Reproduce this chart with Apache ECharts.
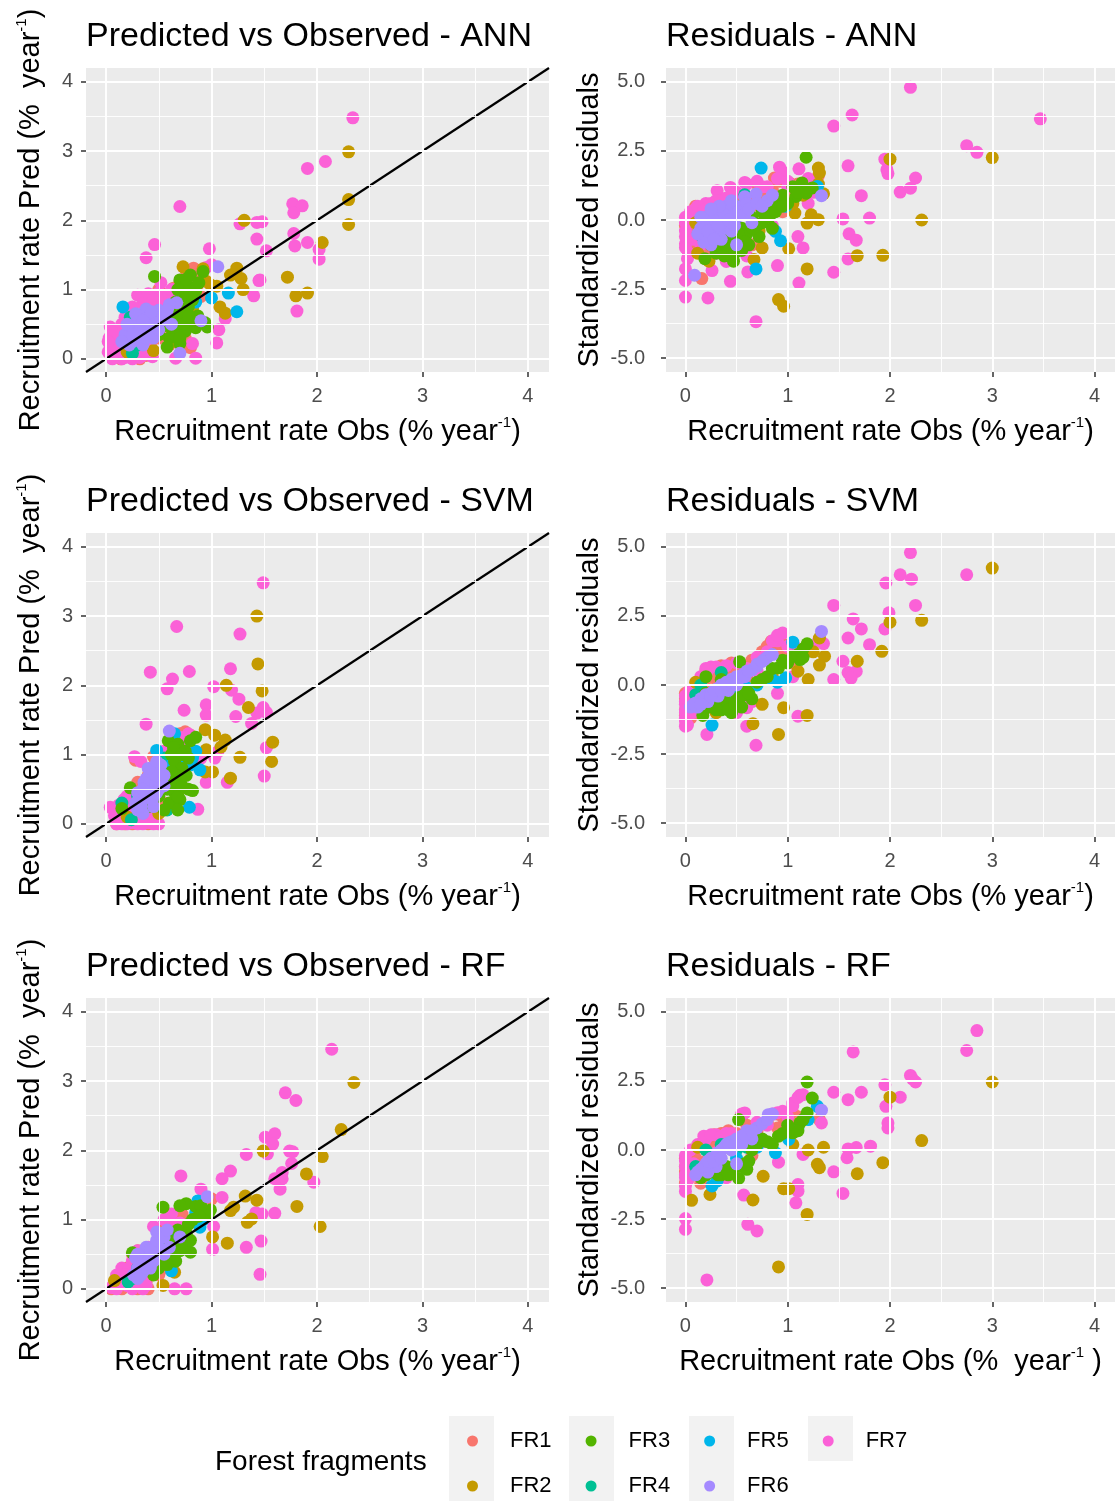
<!DOCTYPE html>
<html>
<head>
<meta charset="utf-8">
<script src="https://cdn.jsdelivr.net/npm/echarts@6/dist/echarts.min.js"></script>
<style>
html,body{margin:0;padding:0;background:#fff;}
#chart{width:1115px;height:1501px;}
</style>
</head>
<body>
<div id="chart"></div>
<script>
// ---- Tick breaks and axis ranges ----
const obsTicks = [0, 1, 2, 3, 4];
const obsMinor = [0.5, 1.5, 2.5, 3.5];
const predTicks = [0, 1, 2, 3, 4];
const predMinor = [0.5, 1.5, 2.5, 3.5];
const residTicks = [-5, -2.5, 0, 2.5, 5];
const residMinor = [-3.75, -1.25, 1.25, 3.75];
const obsRange = [-0.19, 4.2];
const predRange = [-0.19, 4.2];
const residRange = [-5.5, 5.5];
const identityLine = [[-0.19, -0.19], [4.2, 4.2]];
const zeroLine = [[-0.19, 0], [4.2, 0]];

const fragments = ['FR1', 'FR2', 'FR3', 'FR4', 'FR5', 'FR6', 'FR7'];

// ---- ANN: predicted vs observed [obs, pred] ----
const annPred_FR1 = [[0.05,0.02],[0.1,0.08],[0.14,0.0],[0.2,0.04],[0.26,0.1],[0.32,0.0],[0.38,0.05],[0.1,0.22],[0.18,0.15],[0.3,0.18],[0.42,0.2],[0.5,0.3],[0.28,0.4],[0.45,0.75],[0.52,0.85],[0.6,0.95],[0.64,1.02],[0.7,1.1],[0.76,1.28],[0.83,1.31],[0.88,1.22],[0.55,0.6],[0.8,0.16],[0.75,0.3],[0.6,0.2],[0.9,0.9],[0.35,0.88],[0.68,0.72],[0.08,0.12],[0.16,0.3],[0.22,0.25],[0.34,0.12],[0.4,0.35],[0.48,0.45],[0.58,0.7],[0.66,0.85],[0.72,0.95],[0.8,1.1],[0.86,1.0],[0.38,0.6],[0.25,0.65],[0.5,1.0],[0.15,0.45],[0.62,0.4]];
const annPred_FR2 = [[2.30,2.99],[2.30,2.30],[2.30,1.94],[2.05,1.68],[1.31,2.0],[1.72,1.18],[1.80,0.91],[1.91,0.95],[1.18,1.21],[1.24,1.31],[1.28,1.16],[1.30,1.0],[1.13,0.66],[1.08,0.75],[0.73,1.33],[0.99,1.07],[0.66,0.25],[0.45,0.12],[0.92,1.3],[0.95,1.12],[0.2,0.1],[0.82,0.72],[0.62,0.3],[1.05,1.05]];
const annPred_FR3 = [[0.46,1.19],[0.70,1.14],[0.80,1.21],[0.92,1.26],[0.96,0.46],[0.87,0.62],[0.94,0.52],[0.6,0.3],[0.62,0.45],[0.68,0.5],[0.75,0.4],[0.7,0.22],[0.58,0.17],[0.72,0.6],[0.78,1.05],[0.66,0.82],[0.85,0.98],[0.55,0.48],[0.5,0.35],[0.8,0.55],[0.75,0.9],[0.66,0.35],[0.88,1.1],[0.64,0.65],[0.78,0.75],[0.6,0.6],[0.7,0.7],[0.73,0.5],[0.78,0.62],[0.82,0.85],[0.85,0.45],[0.62,0.55],[0.7,0.3],[0.76,1.15],[0.68,1.0]];
const annPred_FR4 = [[0.23,0.6],[0.25,0.08],[0.45,0.67],[0.5,0.5],[0.35,0.3],[0.62,0.65],[0.3,0.2]];
const annPred_FR5 = [[0.16,0.75],[1.0,0.88],[1.16,0.95],[1.24,0.68],[0.85,0.82],[0.6,0.7],[0.42,0.55]];
const annPred_FR6 = [[1.06,1.33],[0.67,0.81],[0.7,0.08],[0.2,0.3],[0.25,0.45],[0.3,0.55],[0.35,0.65],[0.4,0.6],[0.45,0.5],[0.5,0.7],[0.3,0.35],[0.22,0.2],[0.35,0.2],[0.4,0.4],[0.55,0.62],[0.28,0.5],[0.18,0.35],[0.6,0.78],[0.45,0.3],[0.5,0.42],[0.25,0.25],[0.38,0.72],[0.9,0.55],[0.32,0.62],[0.42,0.48],[0.15,0.25],[0.2,0.5],[0.28,0.65],[0.33,0.45],[0.38,0.3],[0.48,0.6],[0.52,0.55],[0.58,0.7],[0.62,0.5],[0.25,0.35],[0.43,0.68],[0.35,0.55]];
const annPred_FR7 = [[2.34,3.48],[2.08,2.85],[1.91,2.75],[1.77,2.24],[1.86,2.21],[1.78,2.11],[1.78,1.81],[1.79,1.63],[1.91,1.68],[2.02,1.58],[2.02,1.44],[1.81,0.69],[0.70,2.20],[0.46,1.65],[0.38,1.46],[0.98,1.59],[1.27,1.95],[1.43,1.97],[1.48,1.98],[1.43,1.73],[1.52,1.56],[1.45,1.13],[1.40,0.91],[1.13,0.58],[1.07,0.42],[1.05,0.23],[0.85,0.01],[0.66,0.01],[0.44,0.03],[0.82,0.22],[0.04,0.46],[0.05,0.2],[0.02,0.1],[0.1,0.32],[0.15,0.0],[0.25,0.0],[0.3,0.92],[0.4,0.94],[0.52,1.1],[0.5,0.95],[0.35,0.8],[0.2,0.55],[0.12,0.42],[0.6,0.92],[1.46,1.14],[0.1,0.15],[0.32,0.02],[0.06,0.0],[1.0,1.36],[0.95,1.32],[0.18,0.6],[0.03,0.3],[0.07,0.05],[0.12,0.08],[0.18,0.02],[0.22,0.12],[0.28,0.2],[0.35,0.05],[0.42,0.15],[0.08,0.38],[0.15,0.5],[0.25,0.75],[0.3,0.6],[0.45,0.85],[0.55,0.8],[0.62,1.0],[0.7,0.9],[0.02,0.25]];

// ---- ANN: standardized residuals [obs, residual] ----
const annRes_FR1 = [[0.0,-0.2],[0.02,0.05],[0.05,-0.5],[0.07,-0.3],[0.05,-1.1],[0.1,-0.8],[0.12,-1.0],[0.16,-2.12],[0.15,0.2],[0.2,0.5],[0.25,0.3],[0.3,0.6],[0.35,0.1],[0.42,-0.2],[0.5,0.4],[0.55,-0.6],[0.6,0.2],[0.65,-0.9],[0.7,0.8],[0.75,1.1],[0.8,0.5],[0.87,1.52],[1.03,1.31],[0.95,0.3],[1.05,0.9],[1.3,1.6],[0.2,-0.6],[0.3,-1.0],[0.45,0.7],[0.02,-0.6],[0.06,0.2],[0.1,-0.3],[0.14,-0.6],[0.2,-1.1],[0.25,0.0],[0.3,0.35],[0.38,0.55],[0.45,0.1],[0.55,0.9],[0.65,0.5],[0.7,1.3],[0.78,0.9],[0.85,1.1],[0.92,1.4],[1.1,1.3],[1.2,1.35],[0.4,-0.9],[0.1,0.5]];
const annRes_FR2 = [[3.0,2.26],[2.0,2.2],[2.31,0.0],[1.68,-1.29],[1.93,-1.28],[1.19,-1.77],[0.91,-2.88],[0.96,-3.12],[1.01,-1.04],[0.75,-1.01],[0.67,-1.43],[0.23,-1.49],[1.19,-0.11],[1.23,0.19],[1.30,0.01],[1.07,0.25],[1.30,1.88],[1.31,1.70],[1.3,1.3],[1.35,0.95],[0.72,-0.4],[0.55,-0.7],[0.1,-0.1],[1.05,0.6],[1.15,0.9],[0.12,-1.2],[0.3,-0.6]];
const annRes_FR3 = [[1.18,2.27],[1.08,0.85],[1.14,1.34],[1.24,1.16],[1.18,0.97],[0.47,-1.49],[0.19,-1.40],[0.3,-0.7],[0.35,-1.0],[0.4,-0.5],[0.45,-1.1],[0.5,-0.8],[0.55,-0.3],[0.6,-0.5],[0.65,0.1],[0.7,-0.2],[0.75,0.3],[0.8,0.5],[0.85,-0.3],[0.9,0.7],[1.0,0.6],[1.05,1.2],[0.62,-0.9],[0.38,-1.3],[0.25,-0.9],[0.72,-0.6],[0.95,0.9],[0.42,-0.9],[0.48,-1.2],[0.52,-0.5],[0.58,-0.8],[0.66,-0.3],[0.75,-0.1],[0.82,0.1],[0.88,0.3],[0.95,0.5],[1.1,1.0],[0.3,-1.2],[0.55,-1.1]];
const annRes_FR4 = [[0.15,-0.55],[0.58,0.91],[0.3,0.2],[0.45,-0.2],[0.55,0.5],[0.22,0.1]];
const annRes_FR5 = [[0.74,1.88],[0.88,-0.41],[0.93,-0.75],[0.69,-1.77],[1.29,1.21],[1.15,1.1],[0.6,0.3],[0.45,-0.7],[0.98,0.5]];
const annRes_FR6 = [[0.09,-2.0],[1.33,0.88],[0.69,0.94],[0.58,0.84],[0.15,-0.3],[0.2,-0.6],[0.25,-0.2],[0.3,-0.5],[0.35,0.0],[0.4,-0.3],[0.45,0.3],[0.5,0.1],[0.55,0.5],[0.6,0.6],[0.65,-0.1],[0.2,0.1],[0.25,-0.9],[0.3,0.3],[0.35,-0.7],[0.4,0.5],[0.45,-0.4],[0.8,0.7],[0.85,0.9],[0.18,-0.8],[0.28,0.0],[0.5,-0.9],[0.12,-0.5],[0.18,-0.2],[0.22,-0.4],[0.28,-0.7],[0.32,-0.2],[0.38,0.2],[0.42,0.0],[0.48,-0.2],[0.52,0.3],[0.58,0.2],[0.62,0.4],[0.7,0.6],[0.75,0.5],[0.33,0.5],[0.45,0.7],[0.25,0.4],[0.15,0.1]];
const annRes_FR7 = [[2.20,4.80],[3.47,3.66],[2.75,2.69],[2.85,2.45],[1.95,2.2],[1.97,1.82],[1.98,1.68],[2.10,1.01],[2.20,1.15],[2.25,1.52],[1.72,0.88],[1.80,0.07],[1.54,0.04],[1.6,-0.5],[1.67,-0.73],[1.59,-1.41],[1.45,-1.89],[1.11,-2.28],[0.69,-3.68],[1.59,1.96],[1.45,3.40],[1.63,3.80],[0.90,-1.65],[1.15,-1.01],[0.61,-1.88],[0.44,-2.22],[0.22,-2.82],[0.0,-2.79],[0.0,-2.19],[0.0,-1.77],[0.26,-1.83],[0.92,1.91],[0.95,1.75],[1.11,1.85],[0.58,1.36],[0.31,1.06],[0.44,1.18],[0.0,0.1],[0.0,-0.86],[0.0,-0.4],[0.03,-1.2],[0.1,0.4],[0.15,-0.1],[0.2,0.6],[0.3,0.7],[0.5,-0.6],[0.6,-1.3],[0.8,1.2],[1.0,1.4],[1.2,1.5],[0.85,-0.2],[1.1,-0.6],[0.0,-0.1],[0.0,-0.6],[0.0,-1.0],[0.02,-1.4],[0.05,0.3],[0.08,-0.7],[0.12,0.5],[0.18,0.35],[0.25,0.6],[0.35,0.7],[0.4,0.8],[0.5,1.0],[0.6,1.3],[0.7,1.4],[0.75,1.2],[0.9,1.5],[1.0,1.2],[1.2,0.6],[1.25,1.0],[0.3,-1.2],[0.4,-1.5],[0.15,-0.9]];

// ---- SVM: predicted vs observed ----
const svmPred_FR1 = [[0.1,0.0],[0.15,0.05],[0.2,0.1],[0.25,0.0],[0.3,0.08],[0.35,0.02],[0.4,0.0],[0.12,0.18],[0.2,0.3],[0.28,0.92],[0.45,0.97],[0.5,0.6],[0.55,0.8],[0.6,1.1],[0.65,1.25],[0.7,1.3],[0.75,1.33],[0.8,1.28],[0.35,0.45],[0.45,0.12],[0.25,0.5],[0.55,0.3],[0.62,0.9],[0.15,0.12],[0.22,0.2],[0.28,0.05],[0.32,0.15],[0.38,0.3],[0.42,0.08],[0.48,0.35],[0.3,0.6],[0.4,0.7],[0.5,0.9],[0.58,1.0],[0.68,1.1],[0.72,1.2],[0.78,1.15],[0.25,0.25],[0.18,0.0]];
const svmPred_FR2 = [[1.43,3.0],[1.44,2.31],[1.14,2.0],[1.48,1.92],[1.35,1.68],[1.58,1.18],[1.57,0.90],[1.27,0.96],[1.18,0.66],[0.94,0.75],[1.01,0.75],[0.94,1.36],[1.03,1.28],[1.13,1.21],[0.95,1.07],[1.09,1.11],[0.2,0.1],[0.65,1.2],[0.7,0.5],[0.8,0.9],[0.5,0.15]];
const svmPred_FR3 = [[0.59,1.2],[0.62,1.0],[0.65,0.9],[0.68,1.15],[0.7,0.6],[0.72,0.8],[0.75,1.05],[0.78,0.5],[0.82,0.48],[0.8,1.2],[0.6,0.3],[0.65,0.45],[0.55,0.2],[0.23,0.52],[0.15,0.22],[0.5,0.4],[0.4,0.25],[0.7,0.35],[0.85,1.25],[0.66,0.7],[0.63,0.6],[0.68,0.4],[0.72,0.55],[0.76,0.7],[0.64,1.1],[0.72,1.0],[0.78,0.95],[0.58,0.5],[0.62,0.75],[0.68,0.2]];
const svmPred_FR4 = [[0.15,0.3],[0.24,0.06],[0.58,0.2],[0.3,0.4],[0.45,0.6],[0.55,0.95]];
const svmPred_FR5 = [[0.72,0.9],[0.76,1.0],[0.8,0.85],[0.85,1.05],[0.89,0.78],[0.79,0.24],[0.48,1.06],[0.65,1.3],[0.6,0.75],[0.62,0.85],[0.68,0.65],[0.7,0.95],[0.75,0.8],[0.82,0.95]];
const svmPred_FR6 = [[0.60,1.34],[0.3,0.2],[0.35,0.35],[0.4,0.5],[0.45,0.6],[0.5,0.75],[0.42,0.8],[0.38,0.65],[0.32,0.3],[0.48,0.45],[0.55,0.55],[0.35,0.15],[0.45,0.25],[0.52,0.85],[0.4,0.4],[0.3,0.45],[0.33,0.25],[0.38,0.45],[0.43,0.55],[0.47,0.7],[0.5,0.5],[0.36,0.6],[0.44,0.35],[0.4,0.8],[0.48,0.9],[0.55,0.7],[0.28,0.3],[0.35,0.5]];
const svmPred_FR7 = [[1.49,3.48],[0.67,2.85],[1.27,2.74],[0.42,2.19],[0.79,2.20],[0.63,2.09],[0.58,1.95],[1.18,2.24],[1.02,1.98],[1.19,1.93],[1.26,1.80],[1.49,1.68],[1.52,1.61],[1.43,1.60],[1.23,1.55],[1.38,1.45],[0.95,1.72],[0.95,1.57],[0.74,1.64],[0.38,1.44],[1.52,1.10],[1.50,0.69],[1.15,0.60],[0.95,0.60],[1.06,1.04],[1.03,0.95],[0.87,0.21],[0.27,0.97],[0.04,0.24],[0.12,0.27],[0.1,0.0],[0.2,0.0],[0.3,0.0],[0.4,0.02],[0.5,0.0],[0.33,0.9],[0.55,1.05],[0.62,1.3],[0.75,1.1],[0.9,0.95],[0.2,0.4],[0.08,0.12],[0.45,0.1],[0.15,0.0],[0.25,0.02],[0.35,0.0],[0.45,0.0],[0.12,0.1],[0.22,0.15],[0.3,0.35],[0.25,0.3],[0.38,0.55],[0.45,0.7],[0.5,0.85],[0.6,1.2],[0.7,1.25],[0.78,1.3],[0.07,0.22],[0.17,0.35]];

// ---- SVM: standardized residuals ----
const svmRes_FR1 = [[0.0,-0.5],[0.0,-0.9],[0.02,-1.2],[0.05,-0.3],[0.08,-0.7],[0.1,-1.0],[0.12,0.1],[0.15,-0.5],[0.2,0.5],[0.25,0.6],[0.3,0.2],[0.35,0.4],[0.45,0.8],[0.5,0.5],[0.55,0.7],[0.6,0.3],[0.84,1.58],[0.87,1.46],[0.7,0.9],[0.9,1.2],[1.0,1.1],[1.05,0.8],[0.4,-0.3],[0.3,-0.6],[0.0,-0.3],[0.0,-1.1],[0.03,-0.8],[0.05,-1.2],[0.08,-0.4],[0.12,-0.6],[0.15,0.0],[0.2,0.2],[0.28,0.5],[0.35,0.7],[0.4,0.6],[0.48,0.65],[0.6,0.7],[0.65,0.9],[0.75,1.2],[0.8,1.4],[0.95,1.5],[1.1,1.3],[1.2,1.4],[0.22,-0.2]];
const svmRes_FR2 = [[3.0,4.23],[2.0,2.27],[2.31,2.34],[1.92,1.22],[1.68,0.86],[1.31,1.70],[1.36,1.04],[1.31,0.72],[1.20,0.2],[1.19,-1.1],[0.96,-0.82],[0.91,-1.79],[0.66,-1.40],[0.75,-0.70],[0.3,-1.0],[0.25,-0.8],[0.85,0.3],[1.1,0.5],[0.1,0.1],[0.5,-0.3],[1.25,1.2]];
const svmRes_FR3 = [[0.17,-1.1],[0.2,-0.3],[0.25,-0.8],[0.3,-0.6],[0.35,-0.9],[0.4,-0.7],[0.45,-1.0],[0.5,-0.5],[0.55,-0.4],[0.6,-0.2],[0.53,0.84],[1.19,1.49],[1.12,0.92],[1.05,1.04],[0.91,0.62],[0.7,0.1],[0.8,0.3],[1.0,0.8],[1.15,1.3],[0.65,-0.5],[0.35,0.2],[0.2,0.3],[0.25,-0.5],[0.3,-0.9],[0.38,-0.5],[0.42,-0.9],[0.48,-0.7],[0.55,-0.8],[0.62,-0.3],[0.75,0.2],[0.85,0.6],[0.95,0.9],[1.1,1.1],[1.15,1.0]];
const svmRes_FR4 = [[0.1,-0.35],[0.15,0.0],[0.35,0.45],[0.5,0.2],[0.3,-0.2],[0.45,-0.3]];
const svmRes_FR5 = [[0.26,-1.45],[1.05,1.55],[0.98,0.26],[0.84,0.23],[0.6,-0.1],[0.45,-0.6],[0.9,0.1],[0.7,0.0]];
const svmRes_FR6 = [[1.33,1.94],[0.77,0.92],[0.70,0.68],[0.60,0.50],[0.05,-0.8],[0.1,-0.65],[0.15,-0.5],[0.2,-0.35],[0.25,-0.3],[0.3,-0.15],[0.35,0.0],[0.4,0.1],[0.45,0.2],[0.5,0.3],[0.55,0.35],[0.65,0.55],[0.8,1.0],[0.12,-0.8],[0.22,-0.6],[0.32,-0.4],[0.42,-0.2],[0.5,0.0],[0.08,-0.7],[0.18,-0.5],[0.25,-0.4],[0.28,-0.2],[0.38,-0.05],[0.45,0.1],[0.52,0.2],[0.58,0.3],[0.62,0.5],[0.7,0.75],[0.75,0.85],[0.85,1.1],[0.15,-0.7],[0.35,-0.2]];
const svmRes_FR7 = [[2.20,4.79],[2.75,3.99],[2.10,3.99],[2.21,3.83],[1.96,3.69],[1.45,2.88],[2.25,2.88],[1.99,2.61],[1.64,2.39],[1.72,2.03],[1.95,2.03],[1.59,1.70],[1.80,1.46],[1.54,0.86],[1.59,0.45],[1.67,0.49],[1.62,0.25],[1.45,0.2],[1.10,-1.13],[0.69,-2.18],[0.60,-1.49],[0.60,-0.82],[0.21,-1.79],[0.0,-1.49],[0.0,-1.2],[0.0,-1.0],[0.0,-0.7],[0.0,-0.4],[0.95,1.88],[0.9,1.6],[1.0,1.4],[1.2,1.3],[0.2,0.6],[0.25,0.65],[0.4,0.7],[0.8,1.2],[0.5,-1.0],[0.9,-0.3],[1.05,0.3],[0.7,0.5],[0.0,-0.6],[0.0,-0.9],[0.0,-1.3],[0.02,-1.45],[0.04,-0.2],[0.07,-1.0],[0.1,-0.5],[0.15,0.3],[0.22,0.55],[0.3,0.65],[0.35,0.55],[0.5,0.8],[0.6,0.6],[0.7,1.0],[0.85,1.6],[0.9,1.8],[1.1,1.3],[1.3,1.6],[1.35,1.5],[0.65,-0.6],[0.45,-0.3]];

// ---- RF: predicted vs observed ----
const rfPred_FR1 = [[0.05,0.0],[0.1,0.05],[0.15,0.0],[0.2,0.1],[0.25,0.02],[0.3,0.0],[0.35,0.05],[0.12,0.2],[0.2,0.3],[0.25,0.5],[0.3,0.55],[0.35,0.4],[0.4,0.3],[0.45,0.6],[0.5,0.7],[0.55,0.85],[0.6,0.95],[0.65,1.05],[0.7,0.9],[0.62,0.8],[0.72,1.08],[1.0,1.3],[0.5,0.2],[0.4,0.0],[0.75,0.7],[0.08,0.05],[0.12,0.1],[0.18,0.05],[0.22,0.15],[0.28,0.1],[0.32,0.2],[0.38,0.1],[0.42,0.45],[0.48,0.5],[0.52,0.65],[0.58,0.9],[0.62,1.0],[0.68,1.05],[0.3,0.4],[0.2,0.2],[0.55,0.3]];
const rfPred_FR2 = [[2.35,2.98],[2.23,2.30],[1.49,1.99],[2.05,1.91],[1.90,1.66],[1.32,1.34],[1.43,1.28],[1.81,1.19],[1.21,1.18],[1.18,1.13],[1.34,0.96],[1.38,1.01],[2.03,0.90],[1.01,0.75],[1.15,0.66],[0.54,0.05],[0.65,0.24],[0.08,0.12],[0.9,1.1],[0.7,0.75],[0.3,0.2]];
const rfPred_FR3 = [[0.54,1.18],[0.76,1.23],[0.85,1.19],[0.97,1.08],[0.99,1.14],[0.78,0.93],[0.80,0.53],[0.25,0.52],[0.5,0.3],[0.55,0.4],[0.6,0.45],[0.65,0.5],[0.7,0.55],[0.72,0.7],[0.68,0.85],[0.45,0.2],[0.6,0.7],[0.82,1.0],[0.4,0.35],[0.9,1.2],[0.5,0.5],[0.55,0.55],[0.62,0.6],[0.66,0.4],[0.74,0.6],[0.76,0.8],[0.8,0.7],[0.88,1.05],[0.7,1.2],[0.58,0.35]];
const rfPred_FR4 = [[0.21,0.1],[0.3,0.3],[0.45,0.45],[0.55,0.6],[0.25,0.15],[0.62,0.7]];
const rfPred_FR5 = [[0.87,1.27],[0.89,0.89],[0.62,0.26],[0.92,1.0],[0.85,1.1],[0.6,0.65],[0.4,0.5]];
const rfPred_FR6 = [[0.96,1.33],[0.48,0.82],[0.26,0.2],[0.3,0.3],[0.35,0.4],[0.4,0.5],[0.45,0.55],[0.5,0.6],[0.55,0.5],[0.3,0.15],[0.35,0.25],[0.42,0.3],[0.38,0.6],[0.52,0.8],[0.45,0.4],[0.28,0.45],[0.6,0.6],[0.7,0.75],[0.32,0.35],[0.36,0.45],[0.4,0.4],[0.44,0.6],[0.48,0.7],[0.33,0.2],[0.38,0.3],[0.5,0.8],[0.55,0.75],[0.42,0.55],[0.3,0.5],[0.58,0.85]];
const rfPred_FR7 = [[2.14,3.46],[1.70,2.83],[1.80,2.72],[1.51,2.19],[1.60,2.24],[1.58,2.09],[1.53,1.95],[1.33,1.94],[1.74,1.99],[1.77,1.98],[1.76,1.81],[1.67,1.68],[1.60,1.59],[1.67,1.59],[1.97,1.54],[1.65,1.44],[1.18,1.70],[1.10,1.59],[0.71,1.63],[0.90,1.44],[1.10,1.32],[1.48,1.08],[1.42,1.10],[1.60,1.09],[1.02,0.90],[1.33,0.60],[1.47,0.69],[1.01,0.57],[1.46,0.21],[0.65,0.0],[0.76,0.0],[0.93,1.12],[0.62,1.08],[0.05,0.02],[0.1,0.0],[0.15,0.08],[0.2,0.25],[0.25,0.0],[0.3,0.05],[0.35,0.0],[0.15,0.3],[0.3,0.55],[0.45,0.9],[0.55,1.0],[0.7,0.95],[0.75,0.65],[0.1,0.2],[0.08,0.1],[0.12,0.15],[0.2,0.05],[0.22,0.3],[0.28,0.2],[0.32,0.1],[0.38,0.05],[0.25,0.4],[0.35,0.55],[0.4,0.6],[0.5,0.75],[0.6,1.05],[0.65,0.9],[0.18,0.2],[0.42,0.2]];

// ---- RF: standardized residuals ----
const rfRes_FR1 = [[0.0,-0.3],[0.0,-0.8],[0.02,-1.1],[0.05,-0.5],[0.08,0.0],[0.1,-0.9],[0.15,-1.2],[0.2,-0.4],[0.25,0.3],[0.3,0.5],[0.35,0.6],[0.4,0.2],[0.45,0.5],[0.5,0.6],[0.55,1.2],[0.6,0.4],[0.65,-0.2],[1.05,1.34],[1.31,1.10],[0.9,0.8],[1.0,1.0],[0.75,0.3],[0.3,-0.5],[0.2,0.1],[0.0,-0.6],[0.0,-1.2],[0.03,-0.2],[0.06,-0.8],[0.1,-0.3],[0.12,0.1],[0.18,0.3],[0.22,0.45],[0.28,0.55],[0.38,0.6],[0.42,0.7],[0.5,0.3],[0.6,0.9],[0.7,0.7],[0.8,1.0],[0.9,1.3],[0.95,1.2],[1.1,1.2],[0.15,-0.5],[0.25,-0.2]];
const rfRes_FR2 = [[3.0,2.46],[2.0,1.91],[2.31,0.34],[1.93,-0.46],[1.68,-0.86],[1.29,-0.52],[1.31,-0.64],[1.35,0.1],[1.20,0.0],[1.19,-2.33],[0.96,-1.40],[1.01,-1.40],[0.91,-4.23],[0.66,-1.81],[0.76,-0.95],[0.06,-1.82],[0.24,-1.61],[0.12,0.1],[1.05,0.2],[0.5,-0.5]];
const rfRes_FR3 = [[1.19,2.46],[0.52,-1.03],[0.52,1.10],[1.24,1.88],[1.19,1.34],[1.12,0.98],[1.05,0.62],[0.91,0.50],[0.63,0.26],[0.25,-0.8],[0.3,-0.7],[0.35,-0.9],[0.4,-0.6],[0.45,-0.8],[0.55,-0.6],[0.6,-0.7],[0.7,0.2],[0.8,0.3],[0.15,-1.0],[1.1,0.7],[0.65,0.0],[0.35,0.0],[0.2,-0.9],[0.28,-0.6],[0.32,-0.9],[0.42,-0.9],[0.48,-0.6],[0.58,-0.5],[0.62,-0.4],[0.75,0.4],[0.85,0.2],[0.95,0.6],[1.0,0.9],[1.15,1.1],[0.5,0.2]];
const rfRes_FR4 = [[0.1,-0.6],[0.2,0.0],[0.35,0.2],[0.5,0.0],[0.6,0.1],[0.28,-0.3]];
const rfRes_FR5 = [[0.26,-1.30],[0.31,-1.12],[1.29,1.58],[1.20,1.10],[1.01,0.38],[0.88,-0.10],[0.7,0.1],[0.5,-0.3],[1.1,0.8]];
const rfRes_FR6 = [[1.33,1.44],[0.81,1.28],[0.1,-0.9],[0.15,-0.7],[0.2,-0.5],[0.25,-0.3],[0.3,-0.2],[0.35,0.0],[0.4,0.2],[0.45,0.3],[0.5,-0.5],[0.55,0.5],[0.6,0.7],[0.7,0.8],[0.75,0.95],[0.65,0.4],[0.3,-0.6],[0.45,0.0],[0.55,0.2],[0.22,-0.8],[0.12,-0.8],[0.18,-0.6],[0.22,-0.4],[0.28,-0.4],[0.32,-0.1],[0.38,0.1],[0.42,0.25],[0.5,0.4],[0.58,0.55],[0.65,0.7],[0.8,1.1],[0.85,1.3],[0.35,-0.3],[0.48,0.2]];
const rfRes_FR7 = [[2.85,4.32],[2.75,3.60],[1.64,3.55],[2.20,2.70],[2.22,2.57],[2.25,2.46],[1.45,2.09],[1.72,2.09],[1.95,2.36],[1.59,1.82],[2.10,1.91],[1.96,1.58],[1.98,0.98],[1.98,0.8],[1.81,0.14],[1.59,0.04],[1.67,0.09],[1.58,-0.28],[1.45,-0.79],[1.54,-1.57],[1.15,-0.16],[1.10,-1.25],[1.10,-1.49],[1.08,-1.91],[0.21,-4.70],[0.0,-2.48],[0.0,-2.87],[0.61,-2.69],[0.70,-2.93],[0.57,-1.63],[0.0,-1.30],[0.0,-1.0],[0.0,-0.6],[0.0,-0.2],[0.58,1.34],[1.12,1.98],[1.05,1.70],[1.33,0.98],[0.91,-0.44],[0.2,0.4],[0.3,0.55],[0.4,0.6],[0.9,1.35],[1.0,1.2],[0.8,0.9],[0.5,0.4],[0.0,-0.4],[0.0,-0.9],[0.0,-1.5],[0.02,-1.1],[0.05,0.0],[0.08,-0.5],[0.12,0.2],[0.18,0.5],[0.25,0.55],[0.35,0.5],[0.45,0.6],[0.55,1.3],[0.6,0.6],[0.7,1.0],[0.85,1.3],[0.95,1.4],[1.05,1.6],[1.1,1.9],[1.15,2.0],[0.3,-0.1],[0.4,-1.0]];

// ---- Styling ----
const FONT = '"Liberation Sans", Arial, Helvetica, sans-serif';
const fragmentColors = ['#F8766D', '#C49A00', '#53B400', '#00C094', '#00B6EB', '#A58AFF', '#FB61D7'];
const drawOrder = [0, 6, 1, 3, 4, 2, 5];
const PANEL_BG = '#EBEBEB';

const obsName = '{t|Recruitment rate Obs (% year}{s|-1}{t|)}';
const obsNameWide = '{t|Recruitment rate Obs (%  year}{s|-1}{t| )}';
const predName = '{t|Recruitment rate Pred (%  year}{s|-1}{t|)}';
const residName = '{t|Standardized residuals}';

const panels = [
  { title: 'Predicted vs Observed - ANN', kind: 'pred', xName: obsName, data: [annPred_FR1, annPred_FR2, annPred_FR3, annPred_FR4, annPred_FR5, annPred_FR6, annPred_FR7] },
  { title: 'Residuals - ANN', kind: 'resid', xName: obsName, data: [annRes_FR1, annRes_FR2, annRes_FR3, annRes_FR4, annRes_FR5, annRes_FR6, annRes_FR7] },
  { title: 'Predicted vs Observed - SVM', kind: 'pred', xName: obsName, data: [svmPred_FR1, svmPred_FR2, svmPred_FR3, svmPred_FR4, svmPred_FR5, svmPred_FR6, svmPred_FR7] },
  { title: 'Residuals - SVM', kind: 'resid', xName: obsName, data: [svmRes_FR1, svmRes_FR2, svmRes_FR3, svmRes_FR4, svmRes_FR5, svmRes_FR6, svmRes_FR7] },
  { title: 'Predicted vs Observed - RF', kind: 'pred', xName: obsName, data: [rfPred_FR1, rfPred_FR2, rfPred_FR3, rfPred_FR4, rfPred_FR5, rfPred_FR6, rfPred_FR7] },
  { title: 'Residuals - RF', kind: 'resid', xName: obsNameWide, data: [rfRes_FR1, rfRes_FR2, rfRes_FR3, rfRes_FR4, rfRes_FR5, rfRes_FR6, rfRes_FR7] }
];

// panel geometry (px)
const colLeft = [86, 666];
const colWidth = [463, 451];
const rowTop = [68, 533, 998];
const panelHeight = 304;

const nameRich = {
  t: { fontSize: 29, fontFamily: FONT, color: '#000', lineHeight: 34 },
  s: { fontSize: 15, fontFamily: FONT, color: '#000', lineHeight: 15, verticalAlign: 'top' }
};

const grid = [], xAxis = [], yAxis = [], series = [], title = [];

panels.forEach((p, i) => {
  const col = i % 2, row = Math.floor(i / 2);
  const isPred = p.kind === 'pred';
  grid.push({ left: colLeft[col], top: rowTop[row], width: colWidth[col], height: panelHeight,
    show: true, backgroundColor: PANEL_BG, borderWidth: 0, containLabel: false });

  title.push({ text: p.title, left: colLeft[col], top: rowTop[row] - 48, padding: 0,
    textStyle: { fontSize: 34, fontWeight: 'normal', color: '#000', fontFamily: FONT } });

  const tickStyle = { show: true, inside: false, length: 5, lineStyle: { color: '#333333', width: 1.5 } };
  const hiddenLine = { show: true, onZero: false, lineStyle: { color: 'rgba(0,0,0,0)', width: 1 } };
  xAxis.push({
    gridIndex: i, type: 'value', position: 'bottom', min: obsRange[0], max: obsRange[1],
    axisLine: hiddenLine,
    axisTick: Object.assign({ customValues: obsTicks }, tickStyle),
    axisLabel: { customValues: obsTicks, color: '#4D4D4D', fontSize: 20, fontFamily: FONT, margin: 14 },
    splitLine: { show: false },
    name: p.xName, nameLocation: 'middle', nameGap: 43,
    nameTextStyle: { rich: nameRich }
  });
  const yTicks = isPred ? predTicks : residTicks;
  const yRange = isPred ? predRange : residRange;
  yAxis.push({
    gridIndex: i, type: 'value', position: 'left', min: yRange[0], max: yRange[1],
    axisLine: hiddenLine,
    axisTick: Object.assign({ customValues: yTicks }, tickStyle),
    axisLabel: { customValues: yTicks, color: '#4D4D4D', fontSize: 20, fontFamily: FONT,
      margin: isPred ? 13 : 21,
      formatter: isPred ? (v => String(v)) : (v => v.toFixed(1)) },
    splitLine: { show: false },
    name: isPred ? predName : residName, nameLocation: 'middle', nameGap: isPred ? 38 : 59,
    nameTextStyle: { rich: nameRich }
  });

  // background grid lines, drawn on the axis scales
  const yMajor = isPred ? predTicks : residTicks;
  const yMinorB = isPred ? predMinor : residMinor;
  const gridLines = []
    .concat(obsMinor.map(v => ({ xAxis: v, lineStyle: { width: 0.9 } })))
    .concat(yMinorB.map(v => ({ yAxis: v, lineStyle: { width: 0.9 } })))
    .concat(obsTicks.map(v => ({ xAxis: v, lineStyle: { width: 1.9 } })))
    .concat(yMajor.map(v => ({ yAxis: v, lineStyle: { width: 1.9 } })));
  series.push({
    type: 'line', xAxisIndex: i, yAxisIndex: i, data: [], z: 1, silent: true,
    markLine: { silent: true, symbol: 'none', animation: false, label: { show: false },
      lineStyle: { color: '#FFFFFF', type: 'solid' }, emphasis: { disabled: true },
      data: gridLines }
  });

  drawOrder.forEach(k => {
    series.push({
      type: 'scatter', name: fragments[k], xAxisIndex: i, yAxisIndex: i,
      data: p.data[k], symbol: 'circle', symbolSize: 13, z: 2, silent: true,
      itemStyle: { color: fragmentColors[k], opacity: 1 }
    });
  });

  series.push({
    type: 'line', xAxisIndex: i, yAxisIndex: i, data: isPred ? identityLine : zeroLine,
    showSymbol: false, symbol: 'none', clip: true, z: 3, silent: true,
    lineStyle: { color: '#000', width: 2.2 }
  });
});

title.push({ text: 'Forest fragments', left: 215, top: 1448, padding: 0,
  textStyle: { fontSize: 28, fontWeight: 'normal', color: '#000', fontFamily: FONT } });

const legendBase = {
  orient: 'horizontal', left: 467, padding: 0, icon: 'circle', itemWidth: 11, itemHeight: 11,
  itemGap: 34, selectedMode: false,
  textStyle: { fontSize: 22, color: '#000', fontFamily: FONT, padding: [0, 0, 0, 27] }
};
const legend = [
  Object.assign({}, legendBase, { top: 1430, data: ['FR1', 'FR3', 'FR5', 'FR7'] }),
  Object.assign({}, legendBase, { top: 1475, data: ['FR2', 'FR4', 'FR6'] })
];

// legend key backgrounds
const keyCols = [449, 569, 689, 808];
const keyRows = [1416, 1461];
const graphic = [];
keyCols.forEach((x, c) => {
  keyRows.forEach((y, r) => {
    if (c === 3 && r === 1) return;
    graphic.push({ type: 'rect', left: x, top: y, z: -1, silent: true,
      shape: { width: 45, height: 45 }, style: { fill: '#F2F2F2' } });
  });
});

const chart = echarts.init(document.getElementById('chart'), null, { renderer: 'canvas' });
chart.setOption({
  animation: false,
  backgroundColor: '#FFFFFF',
  textStyle: { fontFamily: FONT },
  title, grid, xAxis, yAxis, series, legend, graphic
});
</script>
</body>
</html>
